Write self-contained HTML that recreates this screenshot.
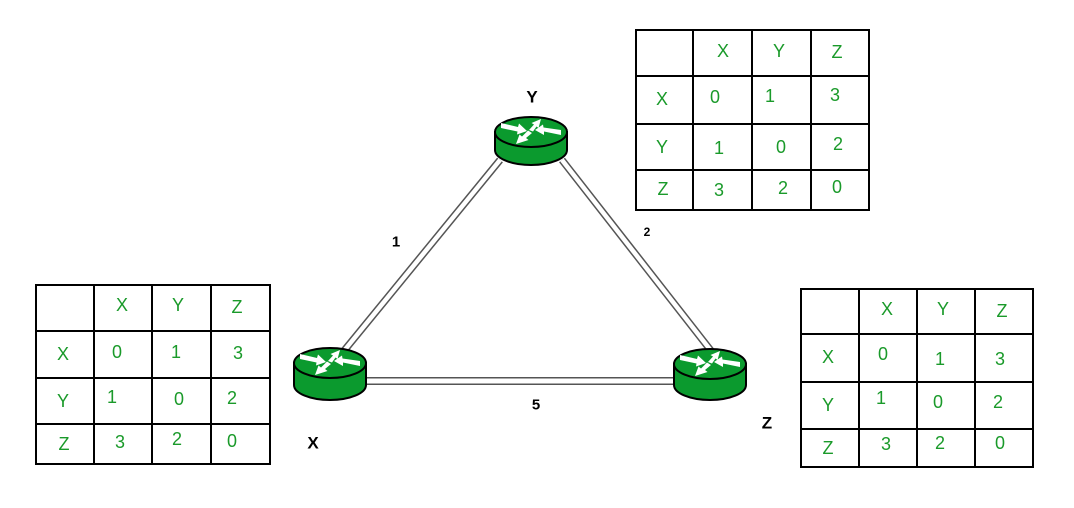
<!DOCTYPE html>
<html>
<head>
<meta charset="utf-8">
<style>
  html, body { margin:0; padding:0; background:#fff; }
  svg { display:block; }
  .g { fill:#1a9a2a; font-family:"Liberation Sans", Arial, sans-serif; font-size:18px; }
  .b { fill:#000; font-family:"Liberation Sans", Arial, sans-serif; font-weight:bold; }
</style>
</head>
<body>
<svg width="1074" height="508" viewBox="0 0 1074 508" xmlns="http://www.w3.org/2000/svg">
  <rect x="0" y="0" width="1074" height="508" fill="#fff"/>

  <!-- links (double lines) -->
  <g stroke-linecap="butt">
    <line x1="500" y1="160" x2="343" y2="352" stroke="#555" stroke-width="7.5"/>
    <line x1="500" y1="160" x2="343" y2="352" stroke="#fff" stroke-width="4.5"/>
    <line x1="562" y1="160" x2="712" y2="352" stroke="#555" stroke-width="7.5"/>
    <line x1="562" y1="160" x2="712" y2="352" stroke="#fff" stroke-width="4.5"/>
    <line x1="360" y1="381" x2="680" y2="381" stroke="#555" stroke-width="8"/>
    <line x1="360" y1="381" x2="680" y2="381" stroke="#fff" stroke-width="5"/>
  </g>

  <defs>
    <g id="arrows" fill="#fff" stroke="none">
      <!-- arrow 1: left pointing right -->
      <polygon points="-30,-9 -13,-5 -12,-8.5 -4,-1 -14,2.5 -13.5,-0.5 -30,-4"/>
      <!-- arrow 2: up-right -->
      <polygon points="-2,-2 3,-7.5 0.5,-9 10,-13 7.5,-4 5.5,-5.5 2,-0.5"/>
      <!-- arrow 3: right pointing left -->
      <polygon points="30,3 13,-0.5 13,3 4,-2 12,-7.5 12.5,-4.5 30,-2"/>
      <!-- arrow 4: down-left -->
      <polygon points="1,1 -5,6 -2.5,8 -15,12 -11.5,2.5 -9,4.5 -3,-1.5"/>
    </g>
  </defs>

  <!-- Router Y -->
  <g transform="translate(531,132)">
    <path d="M-36,0 L-36,18 A36,15 0 0 0 36,18 L36,0 Z" fill="#0b9a2e" stroke="#000" stroke-width="2"/>
    <ellipse cx="0" cy="0" rx="36" ry="15" fill="#0b9a2e" stroke="#000" stroke-width="2"/>
    <use href="#arrows"/>
  </g>
  <!-- Router X -->
  <g transform="translate(330,363)">
    <path d="M-36,0 L-36,22 A36,15 0 0 0 36,22 L36,0 Z" fill="#0b9a2e" stroke="#000" stroke-width="2"/>
    <ellipse cx="0" cy="0" rx="36" ry="15" fill="#0b9a2e" stroke="#000" stroke-width="2"/>
    <use href="#arrows"/>
  </g>
  <!-- Router Z -->
  <g transform="translate(710,364)">
    <path d="M-36,0 L-36,21 A36,15 0 0 0 36,21 L36,0 Z" fill="#0b9a2e" stroke="#000" stroke-width="2"/>
    <ellipse cx="0" cy="0" rx="36" ry="15" fill="#0b9a2e" stroke="#000" stroke-width="2"/>
    <use href="#arrows"/>
  </g>

  <!-- node labels -->
  <g class="b" text-anchor="middle" dominant-baseline="central" font-size="17">
    <text x="532" y="97">Y</text>
    <text x="313" y="443">X</text>
    <text x="767" y="423">Z</text>
    <text x="396" y="242" font-size="15">1</text>
    <text x="647" y="232" font-size="12">2</text>
    <text x="536" y="405" font-size="15">5</text>
  </g>

  <!-- Table top-right -->
  <g fill="none" stroke="#000" stroke-width="2">
    <rect x="636" y="30" width="233" height="180"/>
    <line x1="693" y1="30" x2="693" y2="210"/>
    <line x1="752" y1="30" x2="752" y2="210"/>
    <line x1="811" y1="30" x2="811" y2="210"/>
    <line x1="636" y1="76" x2="869" y2="76"/>
    <line x1="636" y1="124" x2="869" y2="124"/>
    <line x1="636" y1="170" x2="869" y2="170"/>
  </g>
  <g class="g" text-anchor="middle" dominant-baseline="central">
    <text x="723" y="51">X</text><text x="779" y="51">Y</text><text x="837" y="52">Z</text>
    <text x="662" y="99">X</text><text x="715" y="97">0</text><text x="770" y="96">1</text><text x="835" y="95">3</text>
    <text x="662" y="147">Y</text><text x="719" y="148">1</text><text x="781" y="147">0</text><text x="838" y="144">2</text>
    <text x="663" y="189">Z</text><text x="719" y="190">3</text><text x="783" y="188">2</text><text x="837" y="187">0</text>
  </g>

  <!-- Table left -->
  <g fill="none" stroke="#000" stroke-width="2">
    <rect x="36" y="285" width="234" height="179"/>
    <line x1="94" y1="285" x2="94" y2="464"/>
    <line x1="152" y1="285" x2="152" y2="464"/>
    <line x1="211" y1="285" x2="211" y2="464"/>
    <line x1="36" y1="331" x2="270" y2="331"/>
    <line x1="36" y1="378" x2="270" y2="378"/>
    <line x1="36" y1="424" x2="270" y2="424"/>
  </g>
  <g class="g" text-anchor="middle" dominant-baseline="central">
    <text x="122" y="305">X</text><text x="178" y="305">Y</text><text x="237" y="307">Z</text>
    <text x="63" y="354">X</text><text x="117" y="352">0</text><text x="176" y="352">1</text><text x="238" y="353">3</text>
    <text x="63" y="401">Y</text><text x="112" y="397">1</text><text x="179" y="399">0</text><text x="232" y="398">2</text>
    <text x="64" y="444">Z</text><text x="120" y="442">3</text><text x="177" y="439">2</text><text x="232" y="441">0</text>
  </g>

  <!-- Table right -->
  <g fill="none" stroke="#000" stroke-width="2">
    <rect x="801" y="289" width="232" height="178"/>
    <line x1="859" y1="289" x2="859" y2="467"/>
    <line x1="917" y1="289" x2="917" y2="467"/>
    <line x1="975" y1="289" x2="975" y2="467"/>
    <line x1="801" y1="334" x2="1033" y2="334"/>
    <line x1="801" y1="382" x2="1033" y2="382"/>
    <line x1="801" y1="429" x2="1033" y2="429"/>
  </g>
  <g class="g" text-anchor="middle" dominant-baseline="central">
    <text x="887" y="309">X</text><text x="943" y="309">Y</text><text x="1002" y="311">Z</text>
    <text x="828" y="357">X</text><text x="883" y="354">0</text><text x="940" y="359">1</text><text x="1000" y="359">3</text>
    <text x="828" y="405">Y</text><text x="881" y="398">1</text><text x="938" y="402">0</text><text x="998" y="402">2</text>
    <text x="828" y="448">Z</text><text x="886" y="444">3</text><text x="940" y="443">2</text><text x="1000" y="443">0</text>
  </g>
</svg>
</body>
</html>
